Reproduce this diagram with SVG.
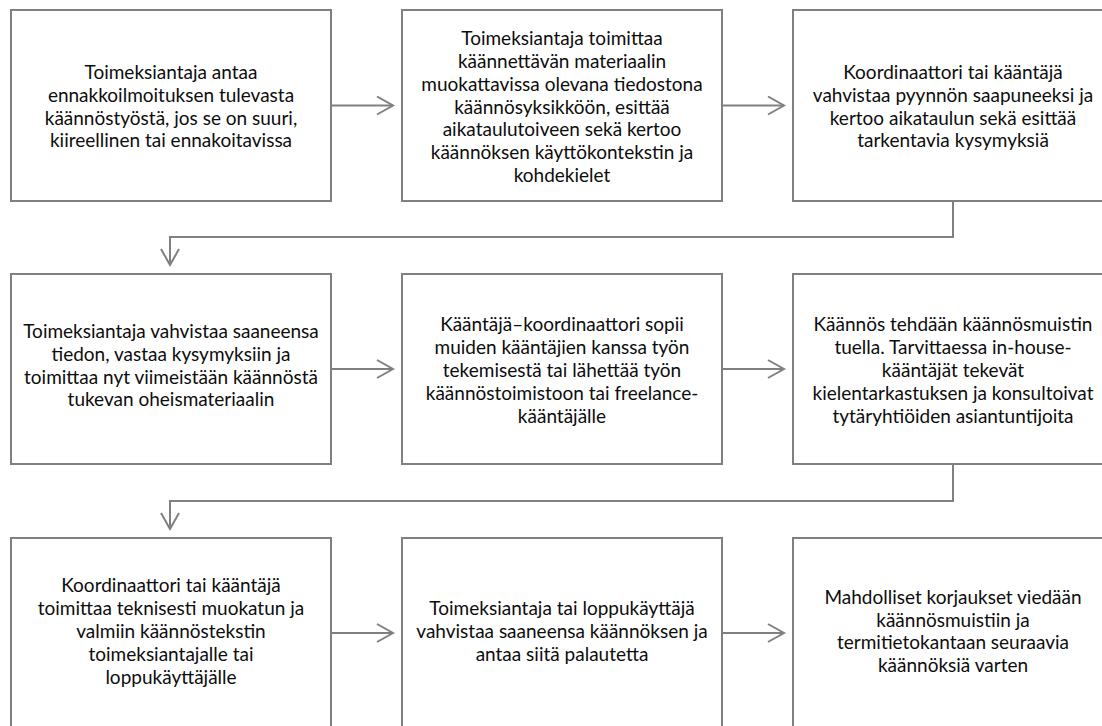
<svg xmlns="http://www.w3.org/2000/svg" width="1102" height="726" viewBox="0 0 1102 726">
<style>
.box{fill:#ffffff;stroke:#808080;stroke-width:2}
.t{font-family:Lato,"Liberation Sans",sans-serif;font-size:19px;fill:#0d0d0d;text-anchor:middle}
.c{fill:none;stroke:#808080;stroke-width:2}
</style>
<defs>
<marker id="ah" markerWidth="20" markerHeight="24" refX="17" refY="10" orient="auto" markerUnits="userSpaceOnUse">
<path d="M1,1 L17,10 L1,19" fill="none" stroke="#808080" stroke-width="2"/>
</marker>
</defs>
<rect width="1102" height="726" fill="#ffffff"/>
<g id="connectors">
<line class="c" x1="331" y1="105.5" x2="393" y2="105.5" marker-end="url(#ah)"/>
<line class="c" x1="722" y1="105.5" x2="784" y2="105.5" marker-end="url(#ah)"/>
<polyline class="c" points="953,201 953,237 170,237 170,265" marker-end="url(#ah)"/>
<line class="c" x1="331" y1="369" x2="393" y2="369" marker-end="url(#ah)"/>
<line class="c" x1="722" y1="369" x2="784" y2="369" marker-end="url(#ah)"/>
<polyline class="c" points="953,464 953,501 170,501 170,529" marker-end="url(#ah)"/>
<line class="c" x1="331" y1="633" x2="393" y2="633" marker-end="url(#ah)"/>
<line class="c" x1="722" y1="633" x2="784" y2="633" marker-end="url(#ah)"/>
</g>
<g id="n1"><rect class="box" x="11" y="10" width="320" height="191"/>
<text class="t"><tspan x="171" y="79">Toimeksiantaja antaa</tspan><tspan x="171" y="101.8">ennakkoilmoituksen tulevasta</tspan><tspan x="171" y="124.6">käännöstyöstä, jos se on suuri,</tspan><tspan x="171" y="147.4">kiireellinen tai ennakoitavissa</tspan></text></g>
<g id="n2"><rect class="box" x="402" y="10" width="320" height="191"/>
<text class="t"><tspan x="562" y="45.1">Toimeksiantaja toimittaa</tspan><tspan x="562" y="67.9">käännettävän materiaalin</tspan><tspan x="562" y="90.7">muokattavissa olevana tiedostona</tspan><tspan x="562" y="113.5">käännösyksikköön, esittää</tspan><tspan x="562" y="136.3">aikataulutoiveen sekä kertoo</tspan><tspan x="562" y="159.1">käännöksen käyttökontekstin ja</tspan><tspan x="562" y="181.9">kohdekielet</tspan></text></g>
<g id="n3"><rect class="box" x="793" y="10" width="320" height="191"/>
<text class="t"><tspan x="953" y="79">Koordinaattori tai kääntäjä</tspan><tspan x="953" y="101.8">vahvistaa pyynnön saapuneeksi ja</tspan><tspan x="953" y="124.6">kertoo aikataulun sekä esittää</tspan><tspan x="953" y="147.4">tarkentavia kysymyksiä</tspan></text></g>
<g id="n4"><rect class="box" x="11" y="274" width="320" height="190"/>
<text class="t"><tspan x="171" y="338">Toimeksiantaja vahvistaa saaneensa</tspan><tspan x="171" y="360.8">tiedon, vastaa kysymyksiin ja</tspan><tspan x="171" y="383.6">toimittaa nyt viimeistään käännöstä</tspan><tspan x="171" y="406.4">tukevan oheismateriaalin</tspan></text></g>
<g id="n5"><rect class="box" x="402" y="274" width="320" height="190"/>
<text class="t"><tspan x="562" y="331.4">Kääntäjä–koordinaattori sopii</tspan><tspan x="562" y="354.2">muiden kääntäjien kanssa työn</tspan><tspan x="562" y="377">tekemisestä tai lähettää työn</tspan><tspan x="562" y="399.8">käännöstoimistoon tai freelance-</tspan><tspan x="562" y="422.6">kääntäjälle</tspan></text></g>
<g id="n6"><rect class="box" x="793" y="274" width="320" height="190"/>
<text class="t"><tspan x="953" y="331.4">Käännös tehdään käännösmuistin</tspan><tspan x="953" y="354.2">tuella. Tarvittaessa in-house-</tspan><tspan x="953" y="377">kääntäjät tekevät</tspan><tspan x="953" y="399.8">kielentarkastuksen ja konsultoivat</tspan><tspan x="953" y="422.6">tytäryhtiöiden asiantuntijoita</tspan></text></g>
<g id="n7"><rect class="box" x="11" y="538" width="320" height="200"/>
<text class="t"><tspan x="171" y="592.4">Koordinaattori tai kääntäjä</tspan><tspan x="171" y="615.2">toimittaa teknisesti muokatun ja</tspan><tspan x="171" y="638">valmiin käännöstekstin</tspan><tspan x="171" y="660.8">toimeksiantajalle tai</tspan><tspan x="171" y="683.6">loppukäyttäjälle</tspan></text></g>
<g id="n8"><rect class="box" x="402" y="538" width="320" height="200"/>
<text class="t"><tspan x="562" y="615.2">Toimeksiantaja tai loppukäyttäjä</tspan><tspan x="562" y="638">vahvistaa saaneensa käännöksen ja</tspan><tspan x="562" y="660.8">antaa siitä palautetta</tspan></text></g>
<g id="n9"><rect class="box" x="793" y="538" width="320" height="200"/>
<text class="t"><tspan x="953" y="603.8">Mahdolliset korjaukset viedään</tspan><tspan x="953" y="626.6">käännösmuistiin ja</tspan><tspan x="953" y="649.4">termitietokantaan seuraavia</tspan><tspan x="953" y="672.2">käännöksiä varten</tspan></text></g>
</svg>
